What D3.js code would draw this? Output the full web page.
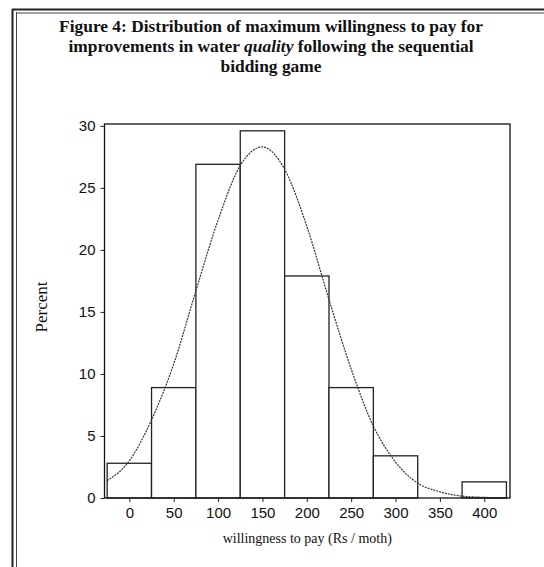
<!DOCTYPE HTML>
<html>
	<head>
        <meta charset="utf-8">
		<title>Figure 4</title>
        <script src="https://d3js.org/d3.v7.min.js"></script>
        <style>
            body { margin: 0; background: #fff; }
            .title { font-family: "Liberation Serif", "DejaVu Serif", serif; font-weight: bold; font-size: 17.4px; fill: #111; }
            .label { font-family: "Liberation Serif", serif; fill: #111; }
        </style>
	</head>
	<body>
        <svg id="chart" width="544" height="567"></svg>
        <script type="text/javascript">
            // histogram bins (Rs / month), width 50
            const binStarts = [-25, 25, 75, 125, 175, 225, 275, 325, 375];
            const binPercent = [2.8, 8.9, 26.9, 29.6, 17.9, 8.9, 3.4, 0, 1.3];

            // fitted normal curve
            const curveX = [-25, 0, 25, 50, 75, 100, 125, 150, 175, 200, 225, 250, 275, 300, 325, 350, 375, 400, 425];
            const curveY = [1.4, 3.0, 6.3, 10.8, 16.7, 22.4, 26.8, 28.3, 26.5, 21.9, 16.0, 10.4, 5.8, 2.9, 1.2, 0.5, 0.15, 0.05, 0.0];

            const xTicks = [0, 50, 100, 150, 200, 250, 300, 350, 400];
            const yTicks = [0, 5, 10, 15, 20, 25, 30];

            const titleLines = [
                ["Figure 4: Distribution of maximum willingness to pay for"],
                ["improvements in water ", "quality", " following the sequential"],
                ["bidding game"]
            ];

            var svg = d3.select("#chart"),
                margin = { top: 124, right: 34, bottom: 69, left: 104.5 },
                width = +svg.attr("width") - margin.left - margin.right,
                height = +svg.attr("height") - margin.top - margin.bottom;

            // page frame (double rule on left and top)
            svg.append("line").attr("x1", 12.5).attr("x2", 12.5).attr("y1", 9).attr("y2", 567)
                .attr("stroke", "#222").attr("stroke-width", 2);
            svg.append("line").attr("x1", 16.5).attr("x2", 16.5).attr("y1", 12).attr("y2", 567)
                .attr("stroke", "#444").attr("stroke-width", 1);
            svg.append("line").attr("x1", 12).attr("x2", 544).attr("y1", 9.5).attr("y2", 9.5)
                .attr("stroke", "#222").attr("stroke-width", 2);
            svg.append("line").attr("x1", 16).attr("x2", 544).attr("y1", 13).attr("y2", 13)
                .attr("stroke", "#444").attr("stroke-width", 1);

            // title
            var title = svg.append("text").attr("class", "title").attr("text-anchor", "middle");
            titleLines.forEach(function(parts, i) {
                var line = title.append("tspan").attr("x", 271).attr("y", 32 + i * 20);
                parts.forEach(function(p) {
                    line.append("tspan").text(p).style("font-style", p === "quality" ? "italic" : null);
                });
            });

            var x = d3.scaleLinear().domain([-28, 429]).range([0, width]);
            var y = d3.scaleLinear().domain([0, 30.15]).range([height, 0]);

            var g = svg.append("g")
                .attr("transform", "translate(" + margin.left + "," + margin.top + ")");

            // bars
            g.selectAll("rect.bar")
                .data(binStarts.map(function(s, i) { return { x0: s, x1: s + 50, v: binPercent[i] }; }))
                .enter().append("rect")
                .attr("class", "bar")
                .attr("x", function(d) { return x(d.x0); })
                .attr("width", function(d) { return x(d.x1) - x(d.x0); })
                .attr("y", function(d) { return y(d.v); })
                .attr("height", function(d) { return y(0) - y(d.v); })
                .attr("fill", "#fff")
                .attr("stroke", "#222")
                .attr("stroke-width", 1.3);

            // normal curve
            var line = d3.line()
                .x(function(d) { return x(d[0]); })
                .y(function(d) { return y(d[1]); })
                .curve(d3.curveMonotoneX);

            g.append("path")
                .datum(curveX.map(function(v, i) { return [v, curveY[i]]; }))
                .attr("fill", "none")
                .attr("stroke", "#333")
                .attr("stroke-width", 1.2)
                .attr("stroke-dasharray", "2,1")
                .attr("d", line);

            // box
            g.append("rect")
                .attr("width", width).attr("height", height)
                .attr("fill", "none").attr("stroke", "#111").attr("stroke-width", 1.3);

            function styleAxis(a) {
                a.attr("font-size", null).attr("font-family", null);
                a.select(".domain").remove();
                a.selectAll("text")
                    .style("font-family", "'Liberation Sans', Arial, sans-serif")
                    .style("font-size", "15px")
                    .attr("fill", "#111");
                a.selectAll("line").attr("stroke", "#222");
            }

            g.append("g")
                .attr("transform", "translate(0," + height + ")")
                .call(d3.axisBottom(x).tickValues(xTicks).tickSize(4).tickPadding(5))
                .call(styleAxis);

            g.append("g")
                .call(d3.axisLeft(y).tickValues(yTicks).tickSize(4).tickPadding(5))
                .call(styleAxis);

            // axis labels
            svg.append("text")
                .attr("class", "label")
                .attr("text-anchor", "middle")
                .attr("transform", "translate(47," + (margin.top + height / 2 - 4) + ") rotate(-90)")
                .style("font-size", "17px")
                .text("Percent");

            svg.append("text")
                .attr("class", "label")
                .attr("text-anchor", "middle")
                .attr("x", margin.left + width / 2)
                .attr("y", 543)
                .style("font-size", "14px")
                .text("willingness to pay (Rs / moth)");
        </script>
	</body>
</html>
